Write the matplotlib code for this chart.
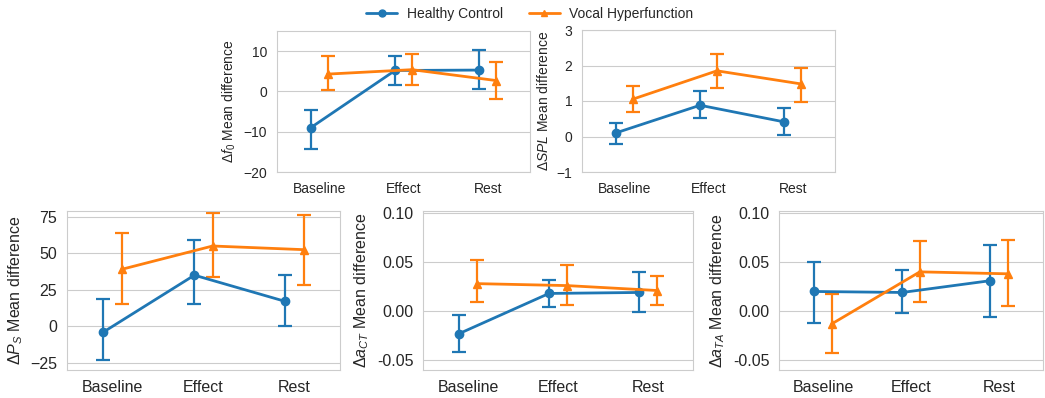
import numpy as np
import matplotlib
matplotlib.use("Agg")
import matplotlib.pyplot as plt
from matplotlib.lines import Line2D
from matplotlib.ticker import FormatStrFormatter
import seaborn as sns

sns.set_style("whitegrid")
plt.rcParams['font.family'] = ['Liberation Sans', 'DejaVu Sans']
plt.rcParams['mathtext.fontset'] = 'custom'
plt.rcParams['mathtext.rm'] = 'Liberation Sans'
plt.rcParams['mathtext.it'] = 'Liberation Sans:italic'

# conditions and groups
conditions = ["Baseline", "Effect", "Rest"]
groups = ["Healthy Control", "Vocal Hyperfunction"]

# mean differences and CI bounds
f0_hc = [-9.0, 5.2, 5.3]
f0_hc_lo = [-14.2, 1.6, 0.6]
f0_hc_hi = [-4.7, 8.7, 10.4]
f0_vh = [4.3, 5.4, 2.7]
f0_vh_lo = [0.4, 1.6, -2.0]
f0_vh_hi = [8.7, 9.4, 7.2]

spl_hc = [0.10, 0.88, 0.41]
spl_hc_lo = [-0.20, 0.52, 0.05]
spl_hc_hi = [0.38, 1.28, 0.80]
spl_vh = [1.05, 1.85, 1.48]
spl_vh_lo = [0.70, 1.38, 0.98]
spl_vh_hi = [1.42, 2.32, 1.92]

ps_hc = [-4.0, 35.0, 17.0]
ps_hc_lo = [-23.0, 15.5, 0.0]
ps_hc_hi = [18.5, 59.0, 35.0]
ps_vh = [39.0, 55.0, 52.5]
ps_vh_lo = [15.5, 34.0, 28.0]
ps_vh_hi = [64.0, 77.5, 76.0]

act_hc = [-0.023, 0.018, 0.019]
act_hc_lo = [-0.042, 0.004, -0.001]
act_hc_hi = [-0.004, 0.032, 0.040]
act_vh = [0.028, 0.026, 0.021]
act_vh_lo = [0.009, 0.006, 0.006]
act_vh_hi = [0.052, 0.047, 0.036]

ata_hc = [0.020, 0.019, 0.031]
ata_hc_lo = [-0.012, -0.002, -0.006]
ata_hc_hi = [0.050, 0.042, 0.067]
ata_vh = [-0.013, 0.040, 0.038]
ata_vh_lo = [-0.043, 0.009, 0.005]
ata_vh_hi = [0.017, 0.071, 0.072]

colors = ["#1f77b4", "#ff7f0e"]
markers = ["o", "^"]


def point_panel(ax, series, ylabel, ylim, yticks, fs):
    x = np.arange(len(conditions))
    for k, (m, lo, hi) in enumerate(series):
        m, lo, hi = np.array(m), np.array(lo), np.array(hi)
        xs = x + (k - 0.5) * 0.2
        ax.errorbar(xs, m, yerr=[m - lo, hi - m], color=colors[k], marker=markers[k],
                    markersize=6, lw=2, elinewidth=1.6, capsize=5, capthick=1.6)
    ax.set_xlim(-0.5, 2.5)
    ax.set_ylim(*ylim)
    ax.set_yticks(yticks)
    ax.set_xticks(x)
    ax.set_xticklabels(conditions)
    ax.xaxis.grid(False)
    ax.set_ylabel(ylabel, fontsize=fs, color=".15")
    ax.tick_params(labelsize=fs, colors=".15")
    for s in ax.spines.values():
        s.set_color(".8")


fig = plt.figure(figsize=(10.45, 3.98), dpi=100)
W, H = 1045, 398


def px_axes(l, t, r, b):
    return fig.add_axes([l / W, 1 - b / H, (r - l) / W, (b - t) / H])


ax1 = px_axes(277, 31, 530, 172)
point_panel(ax1, [(f0_hc, f0_hc_lo, f0_hc_hi), (f0_vh, f0_vh_lo, f0_vh_hi)],
            r"$\Delta f_0$ Mean difference", (-20, 15), [-20, -10, 0, 10], 10)

ax2 = px_axes(582, 30, 835, 172)
point_panel(ax2, [(spl_hc, spl_hc_lo, spl_hc_hi), (spl_vh, spl_vh_lo, spl_vh_hi)],
            r"$\Delta SPL$ Mean difference", (-1, 3), [-1, 0, 1, 2, 3], 10)

ax3 = px_axes(67, 211, 340, 370)
point_panel(ax3, [(ps_hc, ps_hc_lo, ps_hc_hi), (ps_vh, ps_vh_lo, ps_vh_hi)],
            r"$\Delta P_S$ Mean difference", (-30, 79), [-25, 0, 25, 50, 75], 11.5)

ax4 = px_axes(423, 211, 693, 370)
point_panel(ax4, [(act_hc, act_hc_lo, act_hc_hi), (act_vh, act_vh_lo, act_vh_hi)],
            r"$\Delta a_{CT}$ Mean difference", (-0.06, 0.102), [-0.05, 0.0, 0.05, 0.10], 11.5)
ax4.yaxis.set_major_formatter(FormatStrFormatter('%.2f'))

ax5 = px_axes(779, 211, 1043, 370)
point_panel(ax5, [(ata_hc, ata_hc_lo, ata_hc_hi), (ata_vh, ata_vh_lo, ata_vh_hi)],
            r"$\Delta a_{TA}$ Mean difference", (-0.06, 0.102), [-0.05, 0.0, 0.05, 0.10], 11.5)
ax5.yaxis.set_major_formatter(FormatStrFormatter('%.2f'))

handles = [Line2D([], [], color=colors[k], marker=markers[k], markersize=5, lw=2)
           for k in range(len(groups))]
fig.legend(handles, groups, loc="center", bbox_to_anchor=(530 / W, 1 - 14 / H), ncol=2,
           frameon=False, fontsize=10, handlelength=2.2, handletextpad=0.7,
           columnspacing=1.9)

fig.savefig("out.png", dpi=100)
